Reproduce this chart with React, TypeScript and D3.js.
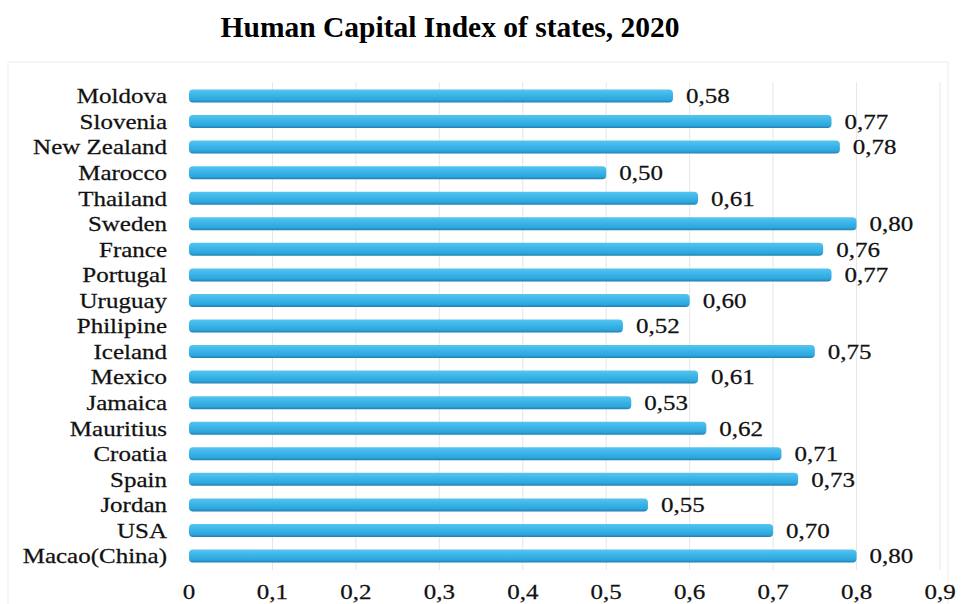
import React from "react";
import * as d3 from "d3";

const categories = [
  "Moldova", "Slovenia", "New Zealand", "Marocco", "Thailand", "Sweden", "France",
  "Portugal", "Uruguay", "Philipine", "Iceland", "Mexico", "Jamaica", "Mauritius",
  "Croatia", "Spain", "Jordan", "USA", "Macao(China)",
];
const values = [
  0.58, 0.77, 0.78, 0.5, 0.61, 0.8, 0.76, 0.77, 0.6, 0.52, 0.75, 0.61, 0.53, 0.62,
  0.71, 0.73, 0.55, 0.7, 0.8,
];
const ticks = [0, 0.1, 0.2, 0.3, 0.4, 0.5, 0.6, 0.7, 0.8, 0.9];
const title = "Human Capital Index of states, 2020";

const W = 964;
const H = 604;
const SX = 1.19;

export default function App() {
  const x = d3.scaleLinear().domain([0, 0.9]).range([189, 940]);
  const y = d3.scalePoint<string>().domain(categories).range([96, 556]);
  const barH = 13;
  const fmt = (v: number) => (v === 0 ? "0" : d3.format(".2f")(v).replace(".", ","));
  const fmtTick = (v: number) => (v === 0 ? "0" : d3.format(".1f")(v).replace(".", ","));
  const font = "Liberation Serif, Times New Roman, serif";
  const txt: React.CSSProperties = {
    fontFamily: font,
    fontSize: "21px",
    fill: "#111",
    stroke: "#111",
    strokeWidth: 0.25,
  };
  const T = (
    px: number,
    py: number,
    anchor: "start" | "middle" | "end",
    s: string,
    key: string,
    dy = "0.35em"
  ) => (
    <text
      key={key}
      transform={`translate(${px},${py}) scale(${SX},1)`}
      dy={dy}
      textAnchor={anchor}
      style={txt}
    >
      {s}
    </text>
  );

  return (
    <svg
      width={W}
      height={H}
      style={{ position: "absolute", left: 0, top: 0, background: "#fff" }}
    >
      <defs>
        <linearGradient id="barGrad" x1="0" y1="0" x2="0" y2="1">
          <stop offset="0%" stopColor="#56c4ef" />
          <stop offset="45%" stopColor="#3ab4e8" />
          <stop offset="80%" stopColor="#2ea6dc" />
          <stop offset="100%" stopColor="#1d7fb2" />
        </linearGradient>
      </defs>
      <rect x={0} y={0} width={W} height={H} fill="#fff" />
      <text
        x={450}
        y={37}
        textAnchor="middle"
        style={{ fontFamily: font, fontSize: "29.5px", fontWeight: "bold", fill: "#000" }}
      >
        {title}
      </text>
      {/* faint frame */}
      <path d={`M8,${H} V62 H948 V${H}`} fill="none" stroke="#ececec" strokeWidth={1} />
      {/* gridlines */}
      {ticks.slice(1).map((t) => (
        <line
          key={"g" + t}
          x1={x(t)}
          x2={x(t)}
          y1={82}
          y2={570}
          stroke="#e6e6e6"
          strokeWidth={1}
        />
      ))}
      {/* bars */}
      {categories.map((c, i) => {
        const cy = y(c) as number;
        return (
          <g key={c}>
            <rect
              x={x(0)}
              y={cy - barH / 2}
              width={x(values[i]) - x(0)}
              height={barH}
              rx={4}
              ry={4}
              fill="url(#barGrad)"
            />
            {T(x(0) - 22, cy, "end", c, "c" + i)}
            {T(x(values[i]) + 13, cy, "start", fmt(values[i]), "v" + i)}
          </g>
        );
      })}
      {/* x axis tick labels */}
      {ticks.map((t) => T(x(t), 599, "middle", fmtTick(t), "t" + t, "0"))}
    </svg>
  );
}
